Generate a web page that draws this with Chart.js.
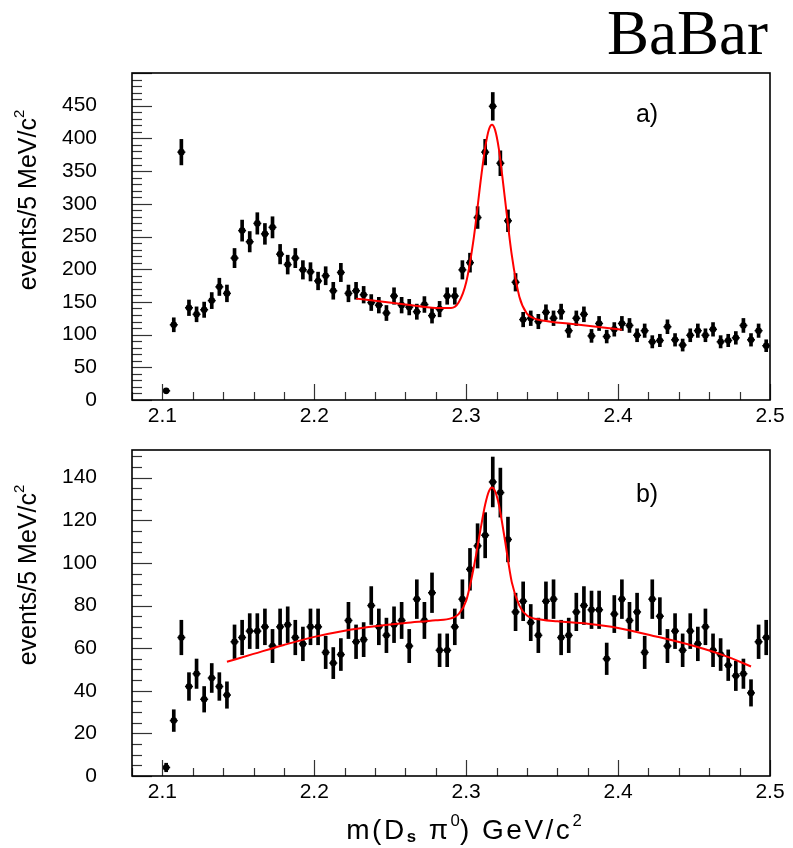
<!DOCTYPE html>
<html>
<head>
<meta charset="utf-8">
<script src="https://cdn.jsdelivr.net/npm/chart.js@4.4.1/dist/chart.umd.min.js"></script>
<style>
  body { margin: 0; background: #fff; }
  #wrap { position: relative; width: 793px; height: 848px; font-family: "Liberation Sans", Arial, sans-serif; color: #000; overflow: hidden; }
  canvas { position: absolute; left: 0; }
  .txt { position: absolute; white-space: nowrap; line-height: 1; }
  #babar { right: 25px; top: 2px; font-family: "Liberation Serif", "Times New Roman", serif; font-size: 63px; }
  .etq { font-size: 25px; transform: translate(-50%, -50%); }
  .ylab { font-size: 25px; transform: translate(-50%, -50%) rotate(-90deg); }
  .xlab { font-size: 28px; letter-spacing: 2.5px; transform: translate(-50%, -50%); }
  sup { font-size: 0.6em; vertical-align: 0.75em; line-height: 0; letter-spacing: 0; }
  sub { font-size: 0.6em; font-weight: bold; vertical-align: -0.15em; line-height: 0; }
</style>
</head>
<body>
<div id="wrap">
  <canvas id="grafA" width="793" height="440" style="top:0"></canvas>
  <canvas id="grafB" width="793" height="428" style="top:420px"></canvas>
  <div class="txt" id="babar">BaBar</div>
  <div class="txt etq" style="left:647px;top:113px">a)</div>
  <div class="txt etq" style="left:647px;top:493px">b)</div>
  <div class="txt ylab" style="left:27px;top:200px">events/5 MeV/c<sup>2</sup></div>
  <div class="txt ylab" style="left:27px;top:575px">events/5 MeV/c<sup>2</sup></div>
  <div class="txt xlab" style="left:464px;top:830px">m(D<sub>s</sub> π<sup>0</sup>) GeV/c<sup>2</sup></div>
</div>
<script>
// bin centres, 5 MeV bins
const masas = [
  2.1025, 2.1075, 2.1125, 2.1175, 2.1225, 2.1275, 2.1325, 2.1375, 2.1425, 2.1475,
  2.1525, 2.1575, 2.1625, 2.1675, 2.1725, 2.1775, 2.1825, 2.1875, 2.1925, 2.1975,
  2.2025, 2.2075, 2.2125, 2.2175, 2.2225, 2.2275, 2.2325, 2.2375, 2.2425, 2.2475,
  2.2525, 2.2575, 2.2625, 2.2675, 2.2725, 2.2775, 2.2825, 2.2875, 2.2925, 2.2975,
  2.3025, 2.3075, 2.3125, 2.3175, 2.3225, 2.3275, 2.3325, 2.3375, 2.3425, 2.3475,
  2.3525, 2.3575, 2.3625, 2.3675, 2.3725, 2.3775, 2.3825, 2.3875, 2.3925, 2.3975,
  2.4025, 2.4075, 2.4125, 2.4175, 2.4225, 2.4275, 2.4325, 2.4375, 2.4425, 2.4475,
  2.4525, 2.4575, 2.4625, 2.4675, 2.4725, 2.4775, 2.4825, 2.4875, 2.4925, 2.4975
];

// panel a)
const eventosA = [
  14, 115, 379, 141, 131, 138, 152, 173, 163, 217,
  259, 242, 270, 254, 264, 223, 207, 217, 199, 196,
  182, 190, 167, 195, 163, 167, 161, 149, 145, 133,
  159, 145, 142, 135, 146, 129, 139, 159, 159, 199,
  210, 279, 379, 449, 362, 274, 180, 123, 125, 120,
  134, 125, 135, 106, 125, 131, 98, 117, 97, 108,
  117, 114, 99, 106, 89, 91, 112, 92, 84, 99,
  106, 99, 108, 89, 91, 95, 114, 92, 106, 83
];
const erroresA = [
  3.7, 10.7, 19.5, 11.9, 11.4, 11.7, 12.3, 13.2, 12.8, 14.7,
  16.1, 15.6, 16.4, 15.9, 16.2, 14.9, 14.4, 14.7, 14.1, 14.0,
  13.5, 13.8, 12.9, 14.0, 12.8, 12.9, 12.7, 12.2, 12.0, 11.5,
  12.6, 12.0, 11.9, 11.6, 12.1, 11.4, 11.8, 12.6, 12.6, 14.1,
  14.5, 16.7, 19.5, 21.2, 19.0, 16.6, 13.4, 11.1, 11.2, 11.0,
  11.6, 11.2, 11.6, 10.3, 11.2, 11.4, 9.9, 10.8, 9.8, 10.4,
  10.8, 10.7, 9.9, 10.3, 9.4, 9.5, 10.6, 9.6, 9.2, 9.9,
  10.3, 9.9, 10.4, 9.4, 9.5, 9.7, 10.7, 9.6, 10.3, 9.1
];
const ajusteAx = [2.2275, 2.24, 2.26, 2.28, 2.29, 2.295, 2.30, 2.305, 2.31, 2.3125, 2.315, 2.317,
  2.319, 2.3215, 2.325, 2.33, 2.335, 2.34, 2.345, 2.35, 2.37, 2.39, 2.4025];
const ajusteAy = [155, 151.6, 146.2, 140.8, 140.6, 149, 180, 248, 344, 386, 414, 421,
  413, 384, 318, 222, 158, 132, 124.5, 121.7, 116.2, 110.8, 107.4];
const ticksYA = [0, 50, 100, 150, 200, 250, 300, 350, 400, 450];

// panel b)
const eventosB = [
  4, 26, 65, 42, 48, 36, 46, 42, 38, 63,
  65, 68, 68, 70, 61, 70, 71, 65, 62, 70,
  70, 58, 53, 57, 73, 63, 64, 80, 70, 66,
  71, 73, 61, 83, 73, 86, 59, 59, 70, 83,
  97, 108, 113, 138, 133, 111, 77, 82, 72, 66,
  82, 83, 65, 66, 77, 80, 78, 78, 55, 76,
  83, 73, 77, 58, 83, 75, 61, 68, 59, 68,
  62, 70, 59, 57, 52, 47, 48, 39, 63, 65
];
const erroresB = [
  2.0, 5.1, 8.1, 6.5, 6.9, 6.0, 6.8, 6.5, 6.2, 7.9,
  8.1, 8.2, 8.2, 8.4, 7.8, 8.4, 8.4, 8.1, 7.9, 8.4,
  8.4, 7.6, 7.3, 7.5, 8.5, 7.9, 8.0, 8.9, 8.4, 8.1,
  8.4, 8.5, 7.8, 9.1, 8.5, 9.3, 7.7, 7.7, 8.4, 9.1,
  9.8, 10.4, 10.6, 11.7, 11.5, 10.5, 8.8, 9.1, 8.5, 8.1,
  9.1, 9.1, 8.1, 8.1, 8.8, 8.9, 8.8, 8.8, 7.4, 8.7,
  9.1, 8.5, 8.8, 7.6, 9.1, 8.7, 7.8, 8.2, 7.7, 8.2,
  7.9, 8.4, 7.7, 7.5, 7.2, 6.9, 6.9, 6.2, 7.9, 8.1
];
const ajusteBx = [2.1425, 2.16, 2.18, 2.20, 2.22, 2.24, 2.26, 2.28, 2.29, 2.295, 2.30, 2.305,
  2.31, 2.3125, 2.315, 2.317, 2.319, 2.3215, 2.325, 2.33, 2.335, 2.34, 2.35, 2.36, 2.38,
  2.40, 2.425, 2.45, 2.47, 2.4875];
const ajusteBy = [53.6, 57.3, 61.5, 65.3, 68.2, 70.3, 71.8, 73.1, 74, 76, 82.3, 98,
  118, 127.4, 133.7, 135.4, 133.7, 127.4, 113, 91, 80, 75.3, 73.3, 72.6, 71.5,
  69.5, 65.5, 61, 56.5, 51.4];
const ticksYB = [0, 20, 40, 60, 80, 100, 120, 140];

const ticksX = [2.1, 2.2, 2.3, 2.4, 2.5];
const etiquetasX = ['2.1', '2.2', '2.3', '2.4', '2.5'];

Chart.defaults.font.family = '"Liberation Sans", Arial, sans-serif';
Chart.defaults.color = '#000';

// frame plus inward tick marks, PAW style
const marco = {
  id: 'marco',
  afterDraw(chart, args, opts) {
    const { ctx, chartArea: a, scales: { x, y } } = chart;
    ctx.save();
    ctx.strokeStyle = '#333';
    ctx.lineWidth = 1.2;
    const nx = Math.round((x.max - x.min) / opts.xMinor);
    for (let i = 0; i <= nx; i++) {
      const v = x.min + i * opts.xMinor;
      const mayor = Math.abs(v / opts.xMajor - Math.round(v / opts.xMajor)) < 1e-6;
      const px = Math.round(x.getPixelForValue(v)) + 0.5;
      ctx.beginPath();
      ctx.moveTo(px, a.bottom);
      ctx.lineTo(px, a.bottom - (mayor ? 16 : 8));
      ctx.stroke();
    }
    const ny = Math.floor(y.max / opts.yMinor);
    for (let i = 0; i <= ny; i++) {
      const v = i * opts.yMinor;
      const mayor = v % opts.yMajor === 0;
      const py = Math.round(y.getPixelForValue(v)) + 0.5;
      ctx.beginPath();
      ctx.moveTo(a.left, py);
      ctx.lineTo(a.left + (mayor ? 20 : 10), py);
      ctx.stroke();
    }
    ctx.strokeStyle = '#000';
    ctx.lineWidth = 1.6;
    ctx.strokeRect(a.left, a.top, a.right - a.left, a.bottom - a.top);
    ctx.restore();
  }
};

const crearPanel = (canvasId, eventos, errores, ajX, ajY, yMax, ticksY, yMinor, yMajor, padTop, altoEjeX) => {
  const puntos = masas.map((m, i) => ({ x: m, y: eventos[i] }));
  const barras = masas.map((m, i) => ({ x: m, y: [eventos[i] - errores[i], eventos[i] + errores[i]] }));
  const ajuste = ajX.map((m, i) => ({ x: m, y: ajY[i] }));

  new Chart(document.getElementById(canvasId), {
    type: 'scatter',
    data: {
      datasets: [
        {
          type: 'line', data: ajuste, borderColor: '#ff0000', borderWidth: 2,
          pointRadius: 0, cubicInterpolationMode: 'monotone', fill: false, order: 0,
        },
        {
          data: puntos, pointStyle: 'circle', pointRadius: 3.3,
          pointBackgroundColor: '#000', pointBorderWidth: 0, order: 1,
        },
        {
          data: puntos, pointStyle: 'line', pointRadius: 4,
          pointBorderColor: '#000', pointBorderWidth: 1.5, order: 2,
        },
        {
          type: 'bar', data: barras, backgroundColor: '#000', barThickness: 3,
          borderWidth: 0, order: 3,
        },
      ],
    },
    options: {
      responsive: false,
      animation: false,
      events: [],
      layout: { padding: { top: padTop, right: 23, left: 0, bottom: 0 } },
      plugins: {
        legend: { display: false },
        tooltip: { enabled: false },
        marco: { xMinor: 0.02, xMajor: 0.1, yMinor: yMinor, yMajor: yMajor },
      },
      scales: {
        x: {
          type: 'linear', min: 2.08, max: 2.5, offset: false,
          afterBuildTicks: (s) => { s.ticks = ticksX.map(v => ({ value: v })); },
          afterFit: (s) => { s.height = altoEjeX; s.paddingLeft = 0; s.paddingRight = 0; },
          grid: { display: false, drawTicks: false },
          border: { display: false },
          ticks: {
            padding: 4, maxRotation: 0, autoSkip: false,
            font: { size: 21 },
            callback: (v, i) => etiquetasX[i],
          },
        },
        y: {
          type: 'linear', min: 0, max: yMax,
          afterBuildTicks: (s) => { s.ticks = ticksY.map(v => ({ value: v })); },
          // the big label padding must not eat into the plot height
          afterFit: (s) => { s.width = 132; s.paddingTop = 0; s.paddingBottom = 0; },
          grid: { display: false, drawTicks: false },
          border: { display: false },
          ticks: { padding: 35, autoSkip: false, font: { size: 21 } },
        },
      },
    },
    plugins: [marco],
  });
};

crearPanel('grafA', eventosA, erroresA, ajusteAx, ajusteAy, 500, ticksYA, 10, 50, 73, 40);
crearPanel('grafB', eventosB, erroresB, ajusteBx, ajusteBy, 153, ticksYB, 5, 20, 30, 72);
</script>
</body>
</html>
